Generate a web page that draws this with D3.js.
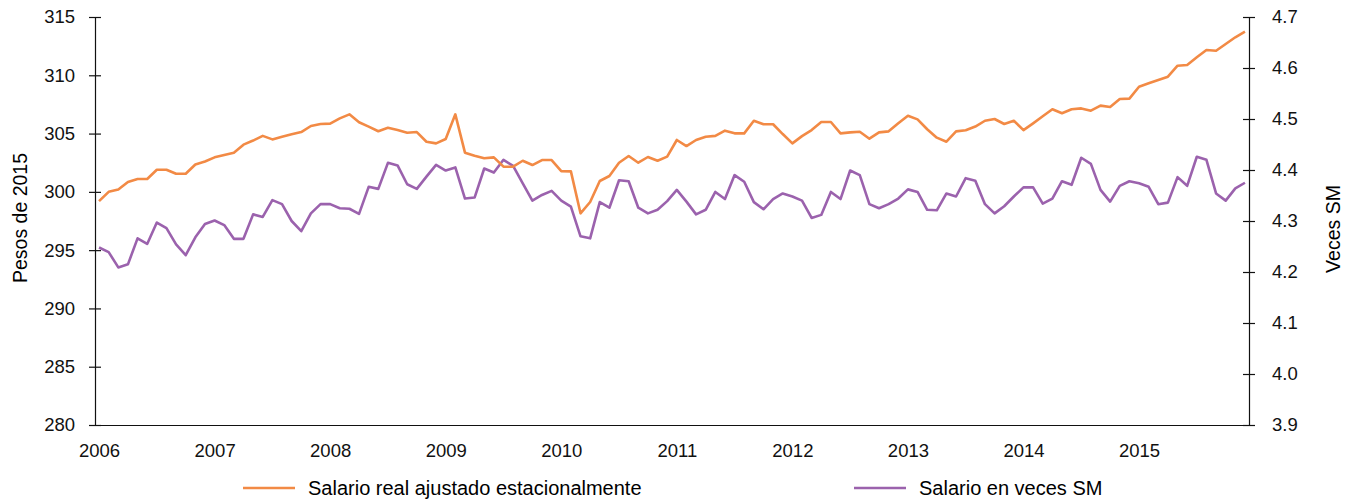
<!DOCTYPE html>
<html>
<head>
<meta charset="utf-8">
<script src="https://cdn.jsdelivr.net/npm/d3@7"></script>
<style>
  body { margin: 0; background: #fff; }
  svg { display: block; font-family: "Liberation Sans", Arial, Helvetica, sans-serif; }
  .axis text { font-size: 18.5px; fill: #111; }
  .axis path, .axis line { stroke: #111; stroke-width: 1.2; }
</style>
</head>
<body>
<svg width="1351" height="502"></svg>
<script>
const years = ['2006', '2007', '2008', '2009', '2010', '2011', '2012', '2013', '2014', '2015']
const leftTicks = [280, 285, 290, 295, 300, 305, 310, 315]
const rightTicks = [3.9, 4.0, 4.1, 4.2, 4.3, 4.4, 4.5, 4.6, 4.7]

// monthly values, Jan 2006 .. Dec 2015
const salarioReal = [
  299.2, 300.0, 300.2, 300.85, 301.1, 301.1, 301.9, 301.9, 301.55, 301.55, 302.35, 302.6,
  302.96, 303.16, 303.36, 304.05, 304.4, 304.8, 304.5, 304.73, 304.94, 305.13, 305.65, 305.82,
  305.85, 306.3, 306.65, 305.97, 305.6, 305.2, 305.5, 305.3, 305.07, 305.13, 304.3, 304.16,
  304.53, 306.65, 303.36, 303.1, 302.88, 302.96, 302.16, 302.16, 302.67, 302.3, 302.73, 302.73,
  301.78, 301.76, 298.16, 299.13, 300.93, 301.36, 302.5, 303.08, 302.5, 302.99, 302.67, 303.02,
  304.45, 303.93, 304.45, 304.73, 304.8, 305.25, 305.02, 305.02, 306.1, 305.8, 305.8, 304.96,
  304.16, 304.78, 305.3, 305.99, 305.99, 305.02, 305.1, 305.16, 304.56, 305.1, 305.19, 305.88,
  306.53, 306.22, 305.37, 304.65, 304.3, 305.19, 305.28, 305.6, 306.1, 306.25, 305.82, 306.1,
  305.3, 305.88, 306.48, 307.09, 306.74, 307.08, 307.16, 306.96, 307.4, 307.28, 307.97, 308.0,
  309.02, 309.31, 309.6, 309.88, 310.82, 310.88, 311.54, 312.17, 312.1, 312.68, 313.26, 313.74
]
const salarioVeces = [
  4.248, 4.239, 4.209, 4.215, 4.266, 4.255, 4.297, 4.286, 4.254, 4.233, 4.268, 4.294,
  4.301, 4.292, 4.265, 4.265, 4.313, 4.308, 4.341, 4.333, 4.300, 4.280, 4.315, 4.333,
  4.333, 4.325, 4.324, 4.314, 4.367, 4.363, 4.414, 4.409, 4.372, 4.363, 4.387, 4.410,
  4.399, 4.405, 4.344, 4.346, 4.403, 4.395, 4.420, 4.408, 4.374, 4.340, 4.351, 4.359,
  4.340, 4.328, 4.270, 4.266, 4.337, 4.326, 4.380, 4.378, 4.326, 4.315, 4.322, 4.339,
  4.361, 4.338, 4.313, 4.322, 4.357, 4.343, 4.390, 4.377, 4.337, 4.323, 4.343, 4.354,
  4.348, 4.340, 4.306, 4.312, 4.357, 4.343, 4.399, 4.390, 4.333, 4.325, 4.333, 4.344,
  4.362, 4.357, 4.322, 4.321, 4.354, 4.348, 4.384, 4.379, 4.333, 4.315, 4.329, 4.348,
  4.366, 4.366, 4.334, 4.344, 4.378, 4.371, 4.424, 4.412, 4.361, 4.338, 4.369, 4.378,
  4.374, 4.367, 4.333, 4.336, 4.386, 4.369, 4.426, 4.420, 4.354, 4.340, 4.364, 4.375
]
const seriesNames = ['Salario real ajustado estacionalmente', 'Salario en veces SM']
const colors = ['#f28a45', '#9b62ad']

const svg = d3.select('svg')
const plotLeft = 95
const plotRight = 1249
const plotTop = 17
const plotBottom = 425

const x = d3.scaleLinear().domain([-0.42, 119.42]).range([plotLeft, plotRight])
const yL = d3.scaleLinear().domain([280, 315]).range([plotBottom, plotTop])
const yR = d3.scaleLinear().domain([3.9, 4.7]).range([plotBottom, plotTop])

// Axes

const gL = svg.append('g').attr('class', 'axis')
  .attr('transform', `translate(${plotLeft},0)`)
  .call(d3.axisLeft(yL).tickValues(leftTicks).tickSize(6).tickSizeOuter(0).tickPadding(14))
gL.selectAll('.tick line').attr('x1', -6).attr('x2', 6)

const gR = svg.append('g').attr('class', 'axis')
  .attr('transform', `translate(${plotRight},0)`)
  .call(d3.axisRight(yR).tickValues(rightTicks).tickFormat(d3.format('.1f')).tickSize(6).tickSizeOuter(0).tickPadding(17))
gR.selectAll('.tick line').attr('x1', -6).attr('x2', 6)

svg.append('g').attr('class', 'axis')
  .attr('transform', `translate(0,${plotBottom})`)
  .call(d3.axisBottom(x).tickValues(years.map((d, i) => i * 12))
    .tickFormat((d, i) => years[i]).tickSize(0).tickSizeOuter(0).tickPadding(19))

svg.append('text')
  .attr('transform', `translate(27,218) rotate(-90)`)
  .attr('text-anchor', 'middle')
  .style('font-size', '19.5px')
  .text('Pesos de 2015')

svg.append('text')
  .attr('transform', `translate(1340,229) rotate(-90)`)
  .attr('text-anchor', 'middle')
  .style('font-size', '19.5px')
  .text('Veces SM')

// Lines

const lineL = d3.line().x((d, i) => x(i)).y(d => yL(d))
const lineR = d3.line().x((d, i) => x(i)).y(d => yR(d))

svg.append('path').datum(salarioVeces)
  .attr('d', lineR)
  .attr('fill', 'none')
  .attr('stroke', colors[1])
  .attr('stroke-width', 2.6)
  .attr('stroke-linejoin', 'round')

svg.append('path').datum(salarioReal)
  .attr('d', lineL)
  .attr('fill', 'none')
  .attr('stroke', colors[0])
  .attr('stroke-width', 2.6)
  .attr('stroke-linejoin', 'round')

// Legend

const legendX = [243, 854]
const legend = svg.selectAll('.legend').data(seriesNames).enter().append('g')
  .attr('transform', (d, i) => `translate(${legendX[i]},488)`)
legend.append('line')
  .attr('x1', 0).attr('x2', 52)
  .attr('stroke', (d, i) => colors[i])
  .attr('stroke-width', 2.6)
legend.append('text')
  .attr('x', 65).attr('dy', '0.35em')
  .style('font-size', '20px')
  .text(d => d)
</script>
</body>
</html>
